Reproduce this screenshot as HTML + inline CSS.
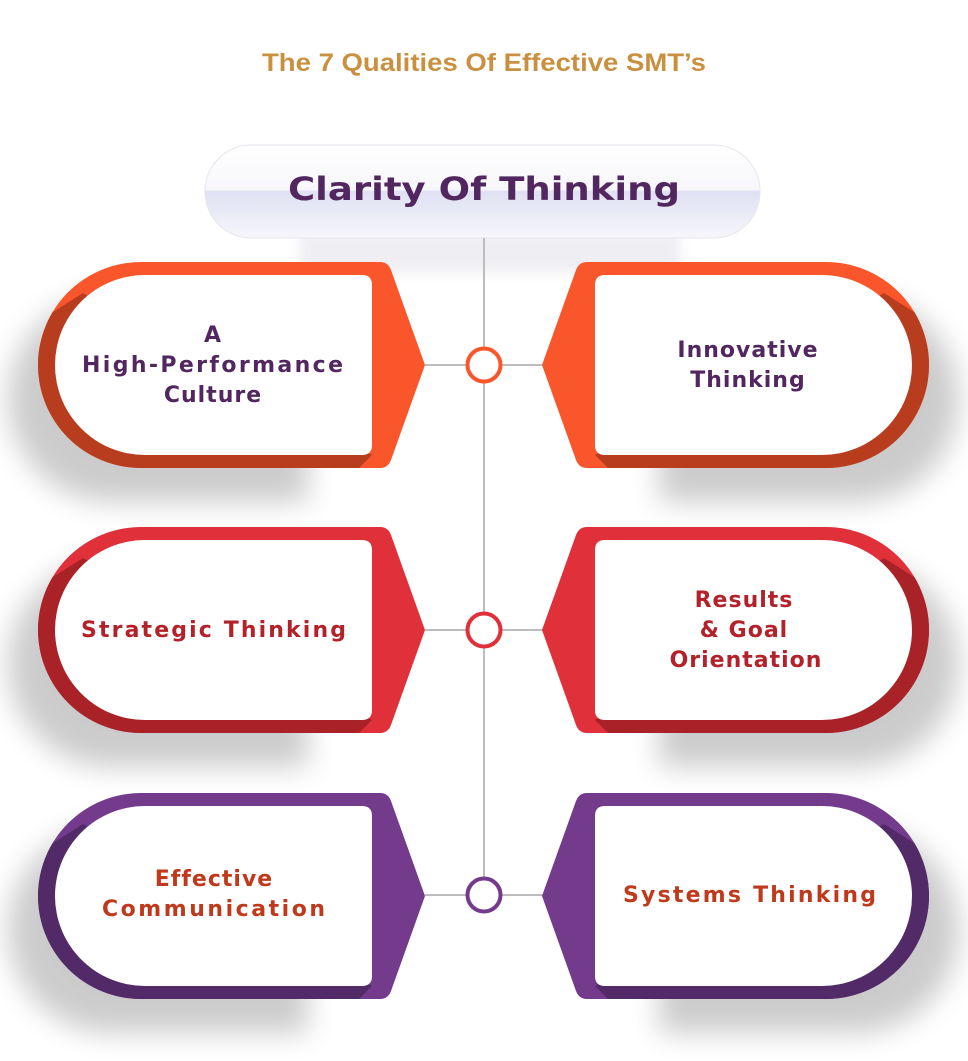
<!DOCTYPE html>
<html><head><meta charset="utf-8"><style>
body{margin:0;background:#fff;}
svg{display:block;}
text{font-family:"DejaVu Sans","Liberation Sans",sans-serif;font-weight:bold;text-anchor:middle;}
</style></head><body>
<svg width="968" height="1061" viewBox="0 0 968 1061" xmlns="http://www.w3.org/2000/svg">
<defs>
<filter id="blur" x="-30%" y="-30%" width="160%" height="160%"><feGaussianBlur stdDeviation="14"/></filter>
<filter id="blur2" x="-30%" y="-50%" width="160%" height="200%"><feGaussianBlur stdDeviation="6"/></filter>
<linearGradient id="pill" x1="0" y1="0" x2="0" y2="1">
<stop offset="0" stop-color="#ffffff"/><stop offset="0.48" stop-color="#f7f7fb"/><stop offset="0.5" stop-color="#dfe1f3"/><stop offset="1" stop-color="#f6f6fa"/>
</linearGradient>
<clipPath id="oc"><path d="M342,0 L103,0 A103,103 0 0 0 103,206 L342,206 Q350,206 353,198 L387,103 L353,8 Q350,0 342,0Z" transform="translate(38,0)"/></clipPath>
<g id="shape">
<path d="M300,20 L103,20 A103,103 0 0 0 103,226 L300,226 Z" transform="translate(8,14)" fill="#000" opacity="0.2" filter="url(#blur)"/>
<path d="M342,0 L103,0 A103,103 0 0 0 103,206 L342,206 Q350,206 353,198 L387,103 L353,8 Q350,0 342,0Z" transform="translate(38,0)" fill="var(--c)"/>
<polygon points="-10,90 83,31 372,193 350,215 -10,215" fill="var(--d)" clip-path="url(#oc)"/>
<path d="M324,13 L107,13 A90,90 0 0 0 107,193 L324,193 Q334,193 334,183 L334,23 Q334,13 324,13Z" transform="translate(38,0)" fill="#fff"/>
</g>
</defs>

<text x="484" y="71" font-size="25" fill="#c9903f" style="font-family:'Liberation Sans',sans-serif" textLength="444" lengthAdjust="spacingAndGlyphs">The 7 Qualities Of Effective SMT’s</text>

<rect x="300" y="232" width="380" height="40" fill="#eeeef3" filter="url(#blur2)"/>
<rect x="205" y="145" width="555" height="93" rx="46" fill="url(#pill)" stroke="#e6e6ee" stroke-width="1"/>
<text x="484" y="200" font-size="32" fill="#52275f" textLength="392" lengthAdjust="spacingAndGlyphs">Clarity Of Thinking</text>

<line x1="484" y1="238" x2="484" y2="880" stroke="#bdbdbd" stroke-width="2"/>
<g stroke="#bdbdbd" stroke-width="2">
<line x1="425" y1="365" x2="467" y2="365"/><line x1="501" y1="365" x2="543" y2="365"/>
<line x1="425" y1="630" x2="467" y2="630"/><line x1="501" y1="630" x2="543" y2="630"/>
<line x1="425" y1="895" x2="467" y2="895"/><line x1="501" y1="895" x2="543" y2="895"/>
</g>
<circle cx="484" cy="365" r="16.5" fill="#fff" stroke="#f9572b" stroke-width="4"/>
<circle cx="484" cy="630" r="16.5" fill="#fff" stroke="#e0303a" stroke-width="4"/>
<circle cx="484" cy="895" r="16.5" fill="#fff" stroke="#743a8c" stroke-width="4"/>

<g style="--c:#f9572b;--d:#b83d1e">
<use href="#shape" transform="translate(0,262)"/>
<use href="#shape" transform="translate(967,262) scale(-1,1)"/>
</g>
<g style="--c:#e0303a;--d:#a82228">
<use href="#shape" transform="translate(0,527)"/>
<use href="#shape" transform="translate(967,527) scale(-1,1)"/>
</g>
<g style="--c:#743a8c;--d:#532a68">
<use href="#shape" transform="translate(0,793)"/>
<use href="#shape" transform="translate(967,793) scale(-1,1)"/>
</g>

<g font-size="22" letter-spacing="1">
<text x="213" y="342" fill="#52275f">A</text>
<text x="213" y="372" fill="#52275f" textLength="262">High-Performance</text>
<text x="213" y="402" fill="#52275f">Culture</text>
<text x="748" y="357" fill="#52275f">Innovative</text>
<text x="748" y="387" fill="#52275f">Thinking</text>
<text x="214" y="637" fill="#b3222a" textLength="266">Strategic Thinking</text>
<text x="744" y="607" fill="#b3222a">Results</text>
<text x="744" y="637" fill="#b3222a">&amp; Goal</text>
<text x="746" y="667" fill="#b3222a">Orientation</text>
<text x="214" y="886" fill="#bf3a1c">Effective</text>
<text x="214" y="916" fill="#bf3a1c" textLength="224">Communication</text>
<text x="750" y="902" fill="#bf3a1c" textLength="254">Systems Thinking</text>
</g>
</svg>
</body></html>
